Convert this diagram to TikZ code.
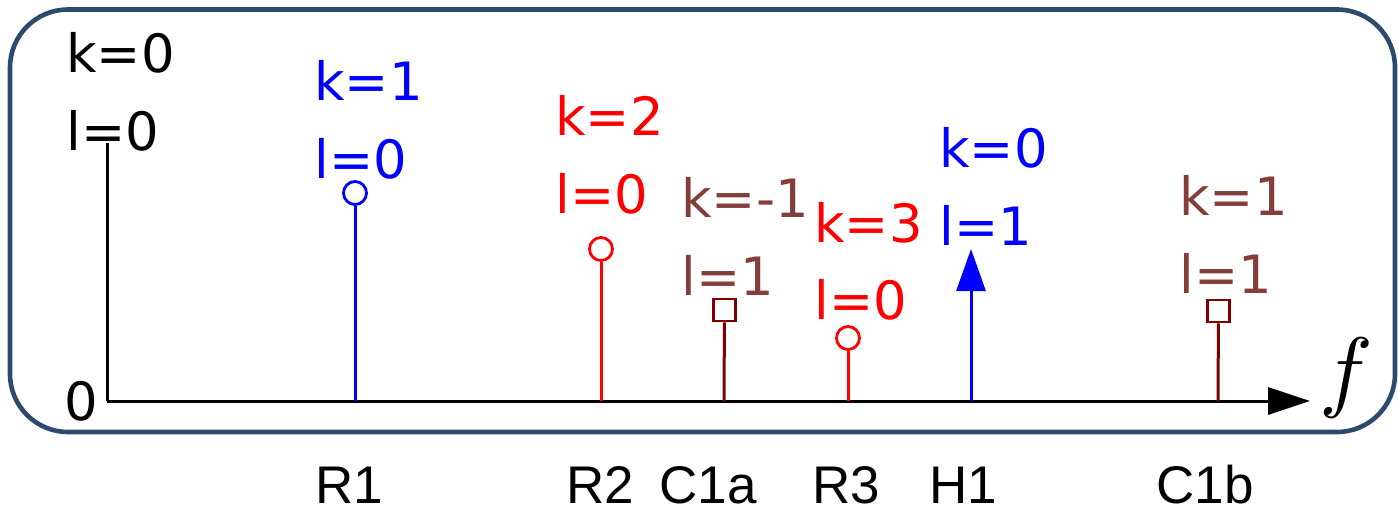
\documentclass[tikz,border=0pt]{standalone}
\usepackage{fontspec}
\setmainfont{DejaVu Sans}
\newfontfamily\tagfont{Liberation Sans}
\usetikzlibrary{arrows.meta}
\definecolor{frameblue}{RGB}{44,74,107}
\definecolor{cplx}{RGB}{128,0,0}
\definecolor{cplxtext}{RGB}{132,62,58}
\tikzset{
  lbl/.style={inner sep=0pt, anchor=base west, font=\fontsize{26.4}{30}\selectfont},
  tag/.style={inner sep=0pt, anchor=base, text depth=0pt, font=\tagfont\fontsize{26.5}{30}\selectfont},
  stem/.style={line width=1.5pt},
  circtip/.style={circle, line width=1.4pt, inner sep=0pt, minimum size=11.5pt},
  sqtip/.style={rectangle, line width=1.3pt, inner sep=0pt, minimum size=11pt},
  axisline/.style={line width=1.5pt, black},
}
\begin{document}
\begin{tikzpicture}[x=0.5pt, y=-0.5pt]
\useasboundingbox (0,0) rectangle (1398,515);

% frame
\draw[frameblue, line width=2.3pt, rounded corners=29pt] (10,9.5) rectangle (1395,432);

% axes
\coordinate (o) at (107,401);
\coordinate (ytop) at (107,143);
\coordinate (xend) at (1310,401);
\draw[axisline] (ytop) -- (o);
\draw[axisline, -{Triangle[length=21pt, width=13.5pt]}] (o) -- (xend);
\node[lbl] (zero) at (64,420) {0};
\node[inner sep=0pt, anchor=base, scale=4.5] (flbl) at (1346,400) {$f$};

% DC term
\node[lbl] (k0) at (66,72) {k=0};
\node[lbl] (l0) at (66,150) {l=0};

% R1
\coordinate (r1b) at (355,401);
\node[circtip, draw=blue, fill=white] (r1) at (355,193) {};
\draw[stem, blue] (r1b) -- (r1);
\node[lbl, text=blue] (r1k) at (314,100) {k=1};
\node[lbl, text=blue] (r1l) at (314,178) {l=0};

% R2
\coordinate (r2b) at (601,401);
\node[circtip, draw=red, fill=white] (r2) at (601,249) {};
\draw[stem, red] (r2b) -- (r2);
\node[lbl, text=red] (r2k) at (555,135) {k=2};
\node[lbl, text=red] (r2l) at (555,213) {l=0};

% C1a
\coordinate (c1ab) at (724,401);
\node[sqtip, draw=cplx, fill=white] (c1a) at (724.5,310) {};
\draw[stem, cplx] (c1ab) -- (c1a);
\node[lbl, text=cplxtext] (c1ak) at (681,217) {k=-1};
\node[lbl, text=cplxtext] (c1al) at (681,295) {l=1};

% R3
\coordinate (r3b) at (848,401);
\node[circtip, draw=red, fill=white] (r3) at (848,338) {};
\draw[stem, red] (r3b) -- (r3);
\node[lbl, text=red] (r3k) at (814,242) {k=3};
\node[lbl, text=red] (r3l) at (814,319) {l=0};

% H1
\coordinate (h1b) at (971,401);
\coordinate (h1) at (971,249);
\draw[stem, blue, -{Triangle[length=21pt, width=14.5pt]}] (h1b) -- (h1);
\node[lbl, text=blue] (h1k) at (939,167) {k=0};
\node[lbl, text=blue] (h1l) at (939,245) {l=1};

% C1b
\coordinate (c1bb) at (1218,401);
\node[sqtip, draw=cplx, fill=white] (c1b) at (1218.5,311) {};
\draw[stem, cplx] (c1bb) -- (c1b);
\node[lbl, text=cplxtext] (c1bk) at (1179,215) {k=1};
\node[lbl, text=cplxtext] (c1bl) at (1179,293) {l=1};

% component tags
\node[tag] (tr1) at (349,503) {R1};
\node[tag] (tr2) at (600,503) {R2};
\node[tag] (tc1a) at (708,503) {C1a};
\node[tag] (tr3) at (846,503) {R3};
\node[tag] (th1) at (963,503) {H1};
\node[tag] (tc1b) at (1205,503) {C1b};
\end{tikzpicture}
\end{document}
